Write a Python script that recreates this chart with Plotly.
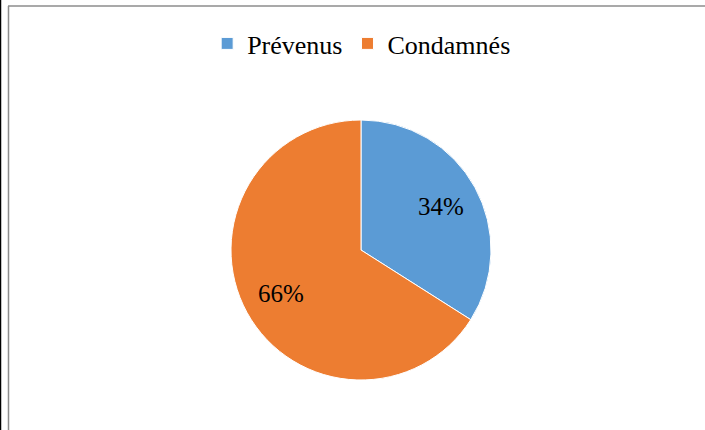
import math
import plotly.graph_objects as go

labels = ["Prévenus", "Condamnés"]
values = [34, 66]
colors = ["#5B9BD5", "#ED7D31"]

W, H = 705, 430
cx, cy, r = 361, 250, 130
label_radius = 0.70  # fraction of pie radius for percent labels

fig = go.Figure(go.Pie(
    labels=labels,
    values=values,
    sort=False,
    direction="clockwise",
    rotation=0,
    marker=dict(colors=colors, line=dict(color="white", width=1)),
    textinfo="none",
    domain=dict(x=[(cx - r) / W, (cx + r) / W], y=[1 - (cy + r) / H, 1 - (cy - r) / H]),
    hoverinfo="label+percent",
))

# percent labels placed at mid-angle of each slice (derived from the values)
total = sum(values)
annotations = []
cum = 0.0
for v in values:
    frac = v / total
    mid = (cum + frac / 2) * 2 * math.pi  # clockwise from 12 o'clock
    cum += frac
    px = cx + label_radius * r * math.sin(mid)
    py = cy - label_radius * r * math.cos(mid)
    annotations.append(dict(
        x=px / W, y=1 - py / H, xref="paper", yref="paper",
        text=f"{round(frac * 100)}%", showarrow=False,
        xanchor="center", yanchor="middle",
        font=dict(family="Liberation Serif", size=25, color="black"),
    ))

fig.update_layout(
    width=W, height=H,
    margin=dict(l=0, r=0, t=0, b=0),
    paper_bgcolor="white",
    plot_bgcolor="white",
    font=dict(family="Liberation Serif", size=26, color="black"),
    showlegend=True,
    legend=dict(
        orientation="h",
        x=0.513, xanchor="center",
        y=1 - 20 / H, yanchor="top",
        font=dict(family="Liberation Serif", size=26, color="black"),
        itemwidth=30,
        bgcolor="rgba(0,0,0,0)",
    ),
    annotations=annotations,
    shapes=[
        dict(type="line", xref="paper", yref="paper", x0=8 / W, x1=1.01, y0=1 - 6 / H, y1=1 - 6 / H,
             line=dict(color="#8C8C8C", width=1.5)),
        dict(type="line", xref="paper", yref="paper", x0=8.5 / W, x1=8.5 / W, y0=-0.01, y1=1 - 6 / H,
             line=dict(color="#8C8C8C", width=1.5)),
        dict(type="line", xref="paper", yref="paper", x0=0.5 / W, x1=0.5 / W, y0=-0.01, y1=1.01,
             line=dict(color="black", width=1.5)),
    ],
)

fig.write_html(
    "out.html",
    config={"displayModeBar": False},
    post_script="document.body.style.margin='0';document.body.style.overflow='hidden';",
)
